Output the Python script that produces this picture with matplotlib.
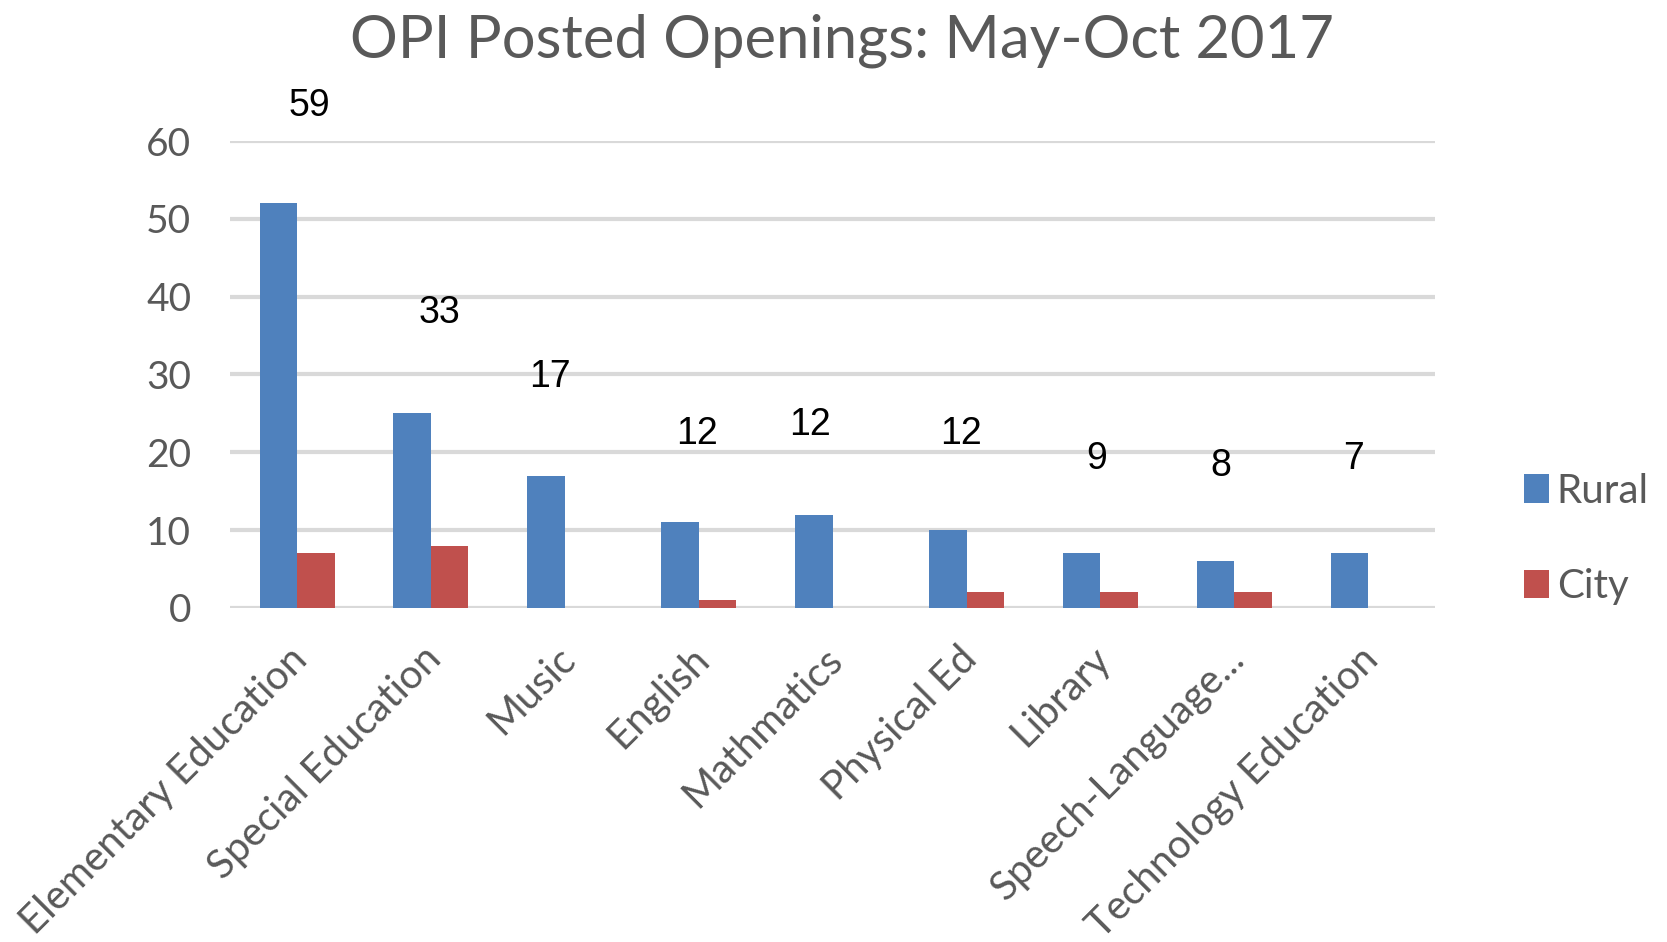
import matplotlib
matplotlib.use("Agg")
import matplotlib.pyplot as plt
import matplotlib.transforms as mtransforms
import numpy as np
from matplotlib.patches import Patch

categories = ["Elementary Education", "Special Education", "Music", "English",
              "Mathmatics", "Physical Ed", "Library", "Speech-Language...",
              "Technology Education"]
rural = [52, 25, 17, 11, 12, 10, 7, 6, 7]
city = [7, 8, 0, 1, 0, 2, 2, 2, 0]
totals = [59, 33, 17, 12, 12, 12, 9, 8, 7]
yticks = [0, 10, 20, 30, 40, 50, 60]

# manual placement of the total labels (data units)
label_y = [64.5, 37.9, 29.7, 22.4, 23.5, 22.4, 19.1, 18.3, 19.1]
label_dx = [0.09, 0.06, -0.11, -0.01, -0.17, -0.04, -0.03, -0.10, -0.11]

BLUE = "#4F81BD"
RED = "#C0504D"
GRID = "#D9D9D9"
TXT = "#595959"
FONT = ["Lato", "DejaVu Sans"]

fig = plt.figure(figsize=(16.67, 9.42), dpi=100)
ax = fig.add_axes([0.138, 0.3546, 0.723, 0.4957])

x = np.arange(len(categories))
w = 0.28
ax.bar(x - w / 2, rural, w, color=BLUE, zorder=3, label="Rural")
ax.bar(x + w / 2, city, w, color=RED, zorder=3, label="City")

ax.set_xlim(-0.5, len(categories) - 0.5)
ax.set_ylim(0, 60)
ax.set_yticks(yticks)
ax.yaxis.grid(True, color=GRID, linewidth=3, zorder=0)
ax.set_axisbelow(True)
for s in ax.spines.values():
    s.set_visible(False)
ax.tick_params(axis="both", length=0)
ax.tick_params(axis="y", pad=28)
ax.set_yticklabels([str(v) for v in yticks], fontsize=28, color=TXT, family=FONT)
ax.set_xticks(x)
ax.set_xticklabels(categories, rotation=45, ha="right", rotation_mode="anchor",
                   fontsize=29, color=TXT, family=FONT)
ax.tick_params(axis="x", pad=8)
offset = mtransforms.ScaledTranslation(-0.09, -0.21, fig.dpi_scale_trans)
for lbl in ax.get_xticklabels():
    lbl.set_transform(lbl.get_transform() + offset)

for xi, t, ly, dx in zip(x, totals, label_y, label_dx):
    ax.text(xi + dx, ly, str(t), ha="center", va="center", fontsize=27,
            color="black", family="Liberation Sans", clip_on=False)

handles = [Patch(facecolor=BLUE, label="Rural"), Patch(facecolor=RED, label="City")]
leg = ax.legend(handles=handles, loc="center left", bbox_to_anchor=(1.074, 0.148),
                frameon=False, handlelength=0.6, handleheight=0.7,
                handletextpad=0.2, labelspacing=1.45, borderpad=0, borderaxespad=0,
                prop={"family": FONT, "size": 29})
for t in leg.get_texts():
    t.set_color(TXT)

fig.suptitle("OPI Posted Openings: May-Oct 2017", x=0.505, y=0.986, va="top",
             fontsize=43, color=TXT, family=FONT)

fig.savefig("out.png", dpi=100)
